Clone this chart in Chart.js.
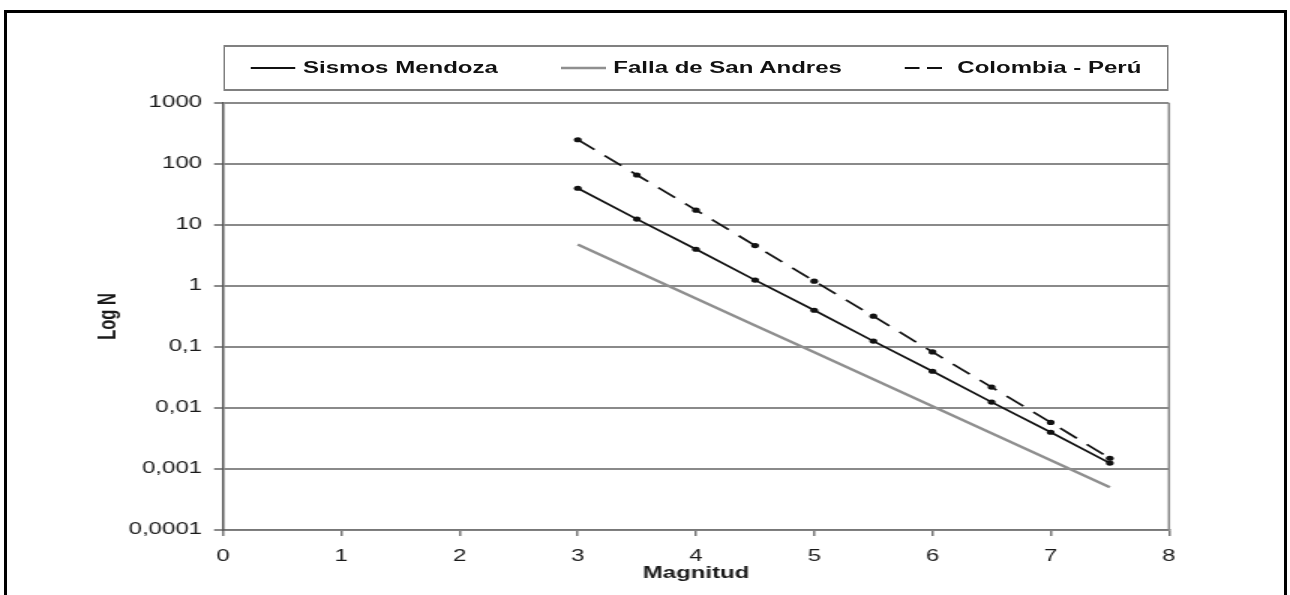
<!DOCTYPE html>
<html lang="es">
<head>
    <meta charset="UTF-8">
    <title>Log N - Magnitud</title>
    <script src="https://cdn.jsdelivr.net/npm/chart.js"></script>
    <style>
        html, body { margin: 0; padding: 0; background: #fff; overflow: hidden; }
        body { width: 1290px; height: 595px; position: relative; font-family: 'Liberation Sans', Arial, sans-serif; }
        .frame {
            position: absolute; left: 4px; top: 10px; width: 1283px; height: 620px;
            box-sizing: border-box; border: 3px solid #000; border-bottom: none;
        }
        /* the whole chart is drawn narrow and stretched sideways */
        .wrap {
            position: absolute; left: 0; top: 0; width: 860px; height: 595px;
            transform: scaleX(1.5); transform-origin: 0 0;
        }
        #legend {
            position: absolute; box-sizing: border-box; height: 46px; top: 45px;
            border-style: solid; border-color: #808080; border-width: 2px 1.4px;
            display: flex; align-items: center; justify-content: center; gap: 42px;
            font: bold 16px 'Liberation Sans', Arial, sans-serif; color: #111;
        }
        #legend .item { display: flex; align-items: center; gap: 5px; white-space: nowrap; }
    </style>
</head>
<body>
    <div class="frame"></div>
    <div class="wrap">
        <canvas id="grChart"></canvas>
        <div id="legend"></div>
    </div>

    <script>
        const magnitudes = [3, 3.5, 4, 4.5, 5, 5.5, 6, 6.5, 7, 7.5];
        const sismosMendoza = [40, 12.5, 4, 1.25, 0.4, 0.125, 0.04, 0.0125, 0.004, 0.00125];
        const fallaSanAndres = [4.8, 1.73, 0.625, 0.226, 0.0817, 0.0295, 0.0107, 0.00386, 0.00139, 0.000503];
        const colombiaPeru = [250, 66, 17.5, 4.6, 1.2, 0.32, 0.083, 0.022, 0.0058, 0.0015];
        const seriesNames = ['Sismos Mendoza', 'Falla de San Andres', 'Colombia - Perú'];
        const yTickValues = [0.0001, 0.001, 0.01, 0.1, 1, 10, 100, 1000];

        const toPoints = vals => vals.map((v, i) => ({ x: magnitudes[i], y: v }));
        const legendEl = document.getElementById('legend');

        Chart.defaults.font.family = "'Liberation Sans', Arial, sans-serif";
        Chart.defaults.color = '#1a1a1a';

        // right edge of the plot box, and the legend box kept over the plot width
        const plotFrame = {
            id: 'plotFrame',
            afterLayout(chart) {
                const a = chart.chartArea;
                legendEl.style.left = a.left + 'px';
                legendEl.style.width = (a.right - a.left) + 'px';
            },
            beforeDatasetsDraw(chart) {
                const { ctx, chartArea: a } = chart;
                ctx.save();
                ctx.strokeStyle = '#888';
                ctx.lineWidth = 1.5;
                ctx.beginPath();
                ctx.moveTo(a.right, a.top);
                ctx.lineTo(a.right, a.bottom);
                ctx.stroke();
                ctx.restore();
            }
        };

        const ctx = document.getElementById('grChart').getContext('2d');
        const chart = new Chart(ctx, {
            type: 'line',
            data: {
                datasets: [
                    {
                        label: seriesNames[0],
                        data: toPoints(sismosMendoza),
                        borderColor: '#111',
                        backgroundColor: '#111',
                        borderWidth: 1.7,
                        pointRadius: 2.6,
                        pointBorderWidth: 0
                    },
                    {
                        label: seriesNames[1],
                        data: toPoints(fallaSanAndres),
                        borderColor: '#8f8f8f',
                        backgroundColor: '#8f8f8f',
                        borderWidth: 2.4,
                        pointRadius: 0
                    },
                    {
                        label: seriesNames[2],
                        data: toPoints(colombiaPeru),
                        borderColor: '#111',
                        backgroundColor: '#111',
                        borderWidth: 1.7,
                        borderDash: [15, 9],
                        pointRadius: 2.6,
                        pointBorderWidth: 0
                    }
                ]
            },
            options: {
                responsive: true,
                maintainAspectRatio: false,
                animation: false,
                layout: { padding: { left: 60, right: 80.7, top: 103, bottom: 0 } },
                plugins: {
                    legend: { display: false },
                    tooltip: { enabled: false }
                },
                scales: {
                    x: {
                        type: 'linear',
                        min: 0,
                        max: 8,
                        afterFit: s => { s.height = 65; },
                        ticks: { stepSize: 1, padding: 11, font: { size: 16 } },
                        grid: { drawOnChartArea: false, drawTicks: true, tickLength: 6, color: '#777', lineWidth: 1.5 },
                        border: { color: '#777', width: 1.5 },
                        title: { display: true, text: 'Magnitud', font: { size: 16, weight: 'bold' }, padding: { top: 0, bottom: 11.4 } }
                    },
                    y: {
                        type: 'logarithmic',
                        min: 0.0001,
                        max: 1000,
                        afterBuildTicks: s => { s.ticks = yTickValues.map(v => ({ value: v })); },
                        afterFit: s => { s.width = 88.7; },
                        ticks: {
                            autoSkip: false,
                            padding: 8,
                            font: { size: 16 },
                            callback: v => String(v).replace('.', ',')
                        },
                        grid: { color: '#8a8a8a', lineWidth: 2, tickLength: 6 },
                        border: { color: '#555', width: 1.5 },
                        title: { display: true, text: 'Log N', font: { size: 16.5, weight: 'bold' }, padding: { top: 3, bottom: 4 } }
                    }
                }
            },
            plugins: [plotFrame]
        });

        // legend entries built from the datasets
        chart.data.datasets.forEach(ds => {
            const item = document.createElement('div');
            item.className = 'item';
            const dash = ds.borderDash ? 'stroke-dasharray="10 5"' : '';
            item.innerHTML =
                `<svg width="30" height="10"><line x1="0" y1="5" x2="30" y2="5" stroke="${ds.borderColor}" stroke-width="${ds.borderWidth + 0.3}" ${dash}/></svg>` +
                `<span>${ds.label}</span>`;
            legendEl.appendChild(item);
        });
    </script>
</body>
</html>
